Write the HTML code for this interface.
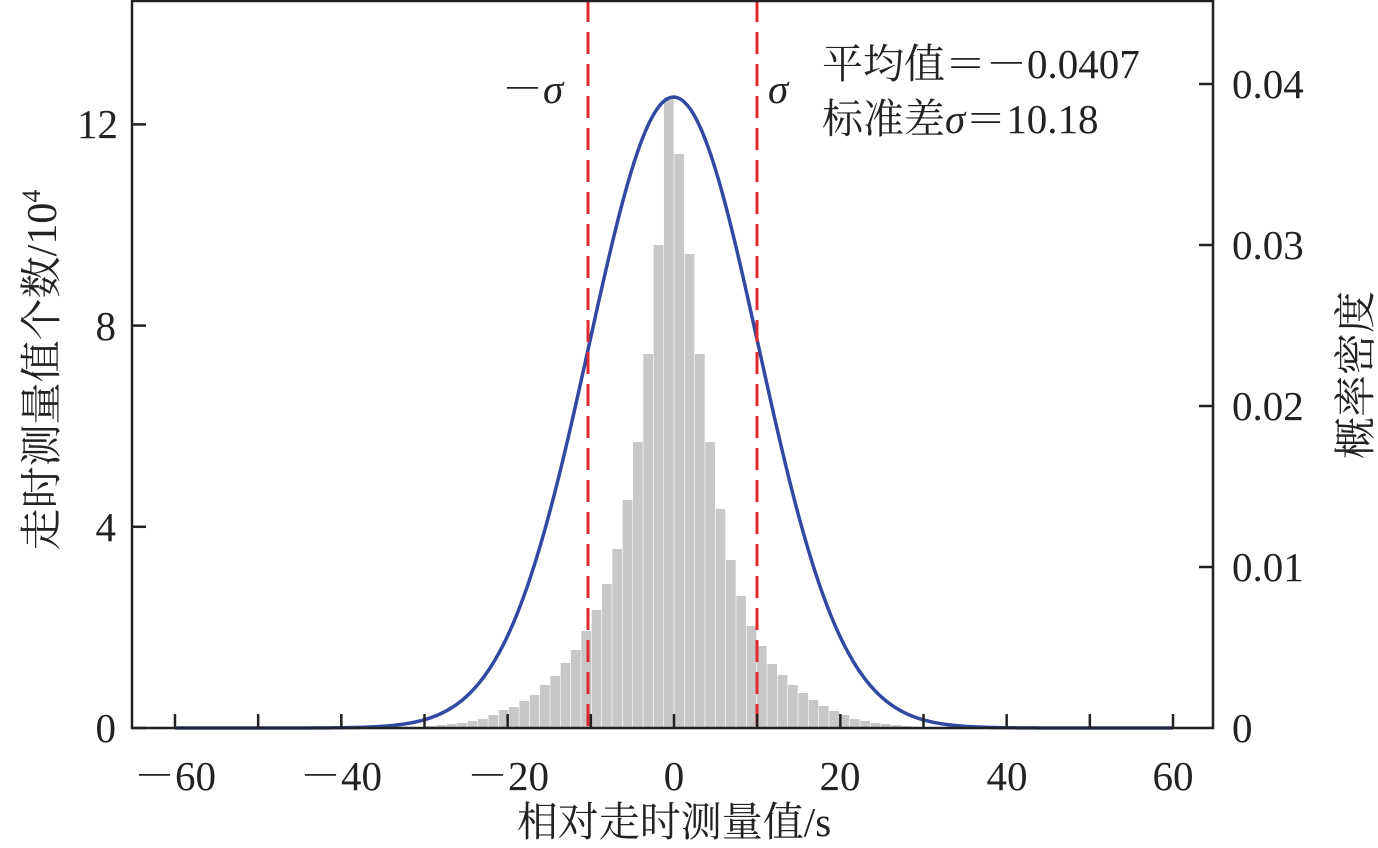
<!DOCTYPE html>
<html><head><meta charset="utf-8"><style>
body{margin:0;background:#fff;}
svg{display:block;font-family:"Liberation Serif","Noto Serif CJK SC",serif;}
</style></head><body>
<svg id="s" width="1378" height="848" viewBox="0 0 1378 848" xmlns="http://www.w3.org/2000/svg">
<g id="bars" fill="#c8c8c8"></g>
<path id="curve" fill="none" stroke="#2f4aa0" stroke-width="3.5"/>
<line x1="588" y1="0" x2="588" y2="728" stroke="#e0282e" stroke-width="3" stroke-dasharray="22,10"/>
<line x1="757" y1="0" x2="757" y2="728" stroke="#e0282e" stroke-width="3" stroke-dasharray="22,10"/>
<g stroke="#222" stroke-width="2.5" fill="none">
<line x1="132" y1="1" x2="1213" y2="1"/>
<line x1="132" y1="0" x2="132" y2="729"/>
<line x1="1213" y1="0" x2="1213" y2="729"/>
<line x1="131" y1="728" x2="1214" y2="728"/>
</g>
<g id="ticks" stroke="#222" stroke-width="2.5"></g>
<g font-size="41" fill="#222">
<g text-anchor="end">
<text x="116" y="742">0</text><text x="116" y="541">4</text><text x="116" y="340">8</text><text x="118" y="138">12</text>
</g>
<g text-anchor="start">
<text x="1232" y="742">0</text><text x="1232" y="581">0.01</text><text x="1232" y="420">0.02</text><text x="1232" y="259">0.03</text><text x="1232" y="98">0.04</text>
</g>
<g text-anchor="middle">
<text x="175" y="790">－60</text><text x="341" y="790">－40</text><text x="508" y="790">－20</text><text x="674" y="790">0</text><text x="840" y="790">20</text><text x="1007" y="790">40</text><text x="1173" y="790">60</text>
<text x="674" y="836">相对走时测量值/s</text>
</g>
<text x="502" y="103">－<tspan font-style="italic">σ</tspan></text>
<text x="768" y="103" font-style="italic">σ</text>
<text x="822" y="78">平均值＝－0.0407</text>
<text x="822" y="133">标准差<tspan font-style="italic">σ</tspan>＝10.18</text>
<text transform="translate(56,370) rotate(-90)" text-anchor="middle" font-size="42">走时测量值个数/10<tspan font-size="26" dy="-16">4</tspan></text>
<text transform="translate(1370,375) rotate(-90)" text-anchor="middle" font-size="42">概率密度</text>
</g>
</svg>
<script>
var ns="http://www.w3.org/2000/svg";
function el(p,t,a){var e=document.createElementNS(ns,t);for(var k in a)e.setAttribute(k,a[k]);p.appendChild(e);}
var L=[97,245,354,442,500,549,584,610,631,650,663,676,685,695,701,707,710,715,719,721,723,724,725,726];
var R=[154,254,354,442,509,560,596,626,646,664,675,685,693,700,706,711,715,719,721,723,724,725,726,727];
var w=10.33,b=document.getElementById('bars');
L.forEach(function(t,i){var x=674-(i+1)*w;el(b,'rect',{x:x+0.3,y:t,width:w-0.6,height:728-t});});
R.forEach(function(t,i){var x=674+i*w;el(b,'rect',{x:x+0.3,y:t,width:w-0.6,height:728-t});});
var d="",s=10.18,m=-0.0407;
for(var v=-60;v<=60.001;v+=0.25){var p=Math.exp(-(v-m)*(v-m)/(2*s*s))/(s*Math.sqrt(2*Math.PI));var X=674+v*8.317,Y=728-p*16100;d+=(d?"L":"M")+X.toFixed(2)+","+Y.toFixed(2);}
document.getElementById('curve').setAttribute('d',d);
var tk=document.getElementById('ticks');
for(var v=-60;v<=60;v+=10){var X=674+v*8.317;el(tk,'line',{x1:X,y1:728,x2:X,y2:714});}
[0,4,8,12].forEach(function(v){var Y=728-v*50.3;el(tk,'line',{x1:132,y1:Y,x2:146,y2:Y});});
[0.01,0.02,0.03,0.04].forEach(function(v){var Y=728-v*16100;el(tk,'line',{x1:1213,y1:Y,x2:1199,y2:Y});});
</script>
</body></html>
